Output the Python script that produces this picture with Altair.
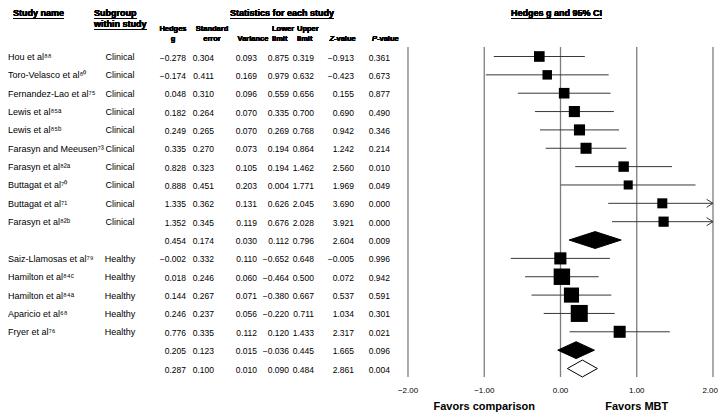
import altair as alt
import pandas as pd
import numpy as np

# ---------------- data ----------------
names = ["Hou et al⁸⁸", "Toro-Velasco et al⁸⁰", "Fernandez-Lao et al⁷⁵", "Lewis et al⁸⁵ᵃ",
         "Lewis et al⁸⁵ᵇ", "Farasyn and Meeusen⁷³", "Farasyn et al⁸²ᵃ", "Buttagat et al⁷⁰",
         "Buttagat et al⁷¹", "Farasyn et al⁸²ᵇ", "", "Saiz-Llamosas  et al⁷⁹", "Hamilton et al⁸⁴ᶜ",
         "Hamilton et al⁸⁴ᵃ", "Aparicio et al⁶⁸", "Fryer et al⁷⁶", "", ""]
subgroups = ["Clinical"] * 10 + [""] + ["Healthy"] * 5 + ["", ""]
row_kind = ["study"] * 10 + ["subtotal"] + ["study"] * 5 + ["subtotal", "overall"]
hedges_g = [-0.278, -0.174, 0.048, 0.182, 0.249, 0.335, 0.828, 0.888, 1.335, 1.352, 0.454,
            -0.002, 0.018, 0.144, 0.246, 0.776, 0.205, 0.287]
std_err = [0.304, 0.411, 0.310, 0.264, 0.265, 0.270, 0.323, 0.451, 0.362, 0.345, 0.174,
           0.332, 0.246, 0.267, 0.237, 0.335, 0.123, 0.100]
variance = [0.093, 0.169, 0.096, 0.070, 0.070, 0.073, 0.105, 0.203, 0.131, 0.119, 0.030,
            0.110, 0.060, 0.071, 0.056, 0.112, 0.015, 0.010]
lower_limit = [-0.875, -0.979, -0.559, -0.335, -0.269, -0.194, 0.194, 0.004, 0.626, 0.676, 0.112,
               -0.652, -0.464, -0.380, -0.220, 0.120, -0.036, 0.090]
lower_printed = ["0.875", "0.979", "0.559", "0.335", "0.269", "0.194", "0.194", "0.004", "0.626",
                 "0.676", "0.112", "−0.652", "−0.464", "−0.380", "−0.220", "0.120", "−0.036", "0.090"]
upper_limit = [0.319, 0.632, 0.656, 0.700, 0.768, 0.864, 1.462, 1.771, 2.045, 2.028, 0.796,
               0.648, 0.500, 0.667, 0.711, 1.433, 0.445, 0.484]
z_value = [-0.913, -0.423, 0.155, 0.690, 0.942, 1.242, 2.560, 1.969, 3.690, 3.921, 2.604,
           -0.005, 0.072, 0.537, 1.034, 2.317, 1.665, 2.861]
p_value = [0.361, 0.673, 0.877, 0.490, 0.346, 0.214, 0.010, 0.049, 0.000, 0.000, 0.009,
           0.996, 0.942, 0.591, 0.301, 0.021, 0.096, 0.004]
axis_ticks = [-2, -1, 0, 1, 2]
tick_labels = ["−2.00", "−1.00", "0.00", "1.00", "2.00"]
favors_text = ["Favors comparison", "Favors MBT"]
favors_at = [-1, 1]
x_min, x_max = -2, 2

# ---------------- derived tables ----------------
def fmt(v):
    return f"{v:.3f}".replace("-", "−")

n = len(names)
rows = list(range(n))
table = pd.DataFrame({
    "row": rows, "name": names, "sub": subgroups,
    "g_txt": [fmt(v) for v in hedges_g], "se_txt": [fmt(v) for v in std_err],
    "var_txt": [fmt(v) for v in variance], "lo_txt": lower_printed,
    "up_txt": [fmt(v) for v in upper_limit], "z_txt": [fmt(v) for v in z_value],
    "p_txt": [fmt(v) for v in p_value],
})

# relative (random-effects) weights within each subgroup -> square area
def rel_weights(idx):
    v = np.array([variance[i] for i in idx])
    y = np.array([hedges_g[i] for i in idx])
    w = 1 / v
    m = (w * y).sum() / w.sum()
    q = (w * (y - m) ** 2).sum()
    c = w.sum() - (w ** 2).sum() / w.sum()
    tau2 = max(0.0, (q - (len(idx) - 1)) / c)
    wr = 1 / (v + tau2)
    return 100 * wr / wr.sum()

weights = {}
for grp in ["Clinical", "Healthy"]:
    idx = [i for i in rows if subgroups[i] == grp]
    for i, w in zip(idx, rel_weights(idx)):
        weights[i] = w

study_idx = [i for i in rows if row_kind[i] == "study"]
studies = pd.DataFrame({
    "row": study_idx,
    "g": [hedges_g[i] for i in study_idx],
    "lo": [max(lower_limit[i], x_min) for i in study_idx],
    "hi": [min(upper_limit[i], x_max) for i in study_idx],
    "area": [weights[i] * 10.8 for i in study_idx],
})
arrows = pd.DataFrame({
    "row": [i for i in study_idx if upper_limit[i] > x_max],
    "x": [x_max for i in study_idx if upper_limit[i] > x_max],
})

dia = []
for i in rows:
    if row_kind[i] == "study":
        continue
    fill = "black" if row_kind[i] == "subtotal" else "white"
    h = 0.46
    dia += [
        {"row": i, "x": lower_limit[i], "y": i, "y2": i, "fill": fill},
        {"row": i, "x": hedges_g[i], "y": i - h, "y2": i + h, "fill": fill},
        {"row": i, "x": upper_limit[i], "y": i, "y2": i, "fill": fill},
    ]
diamonds = pd.DataFrame(dia)

ticks = pd.DataFrame({"t": axis_ticks, "label": tick_labels})
ticks_inner = ticks[ticks["t"] < x_max]
ticks_edge = ticks[ticks["t"] == x_max]
fav = pd.DataFrame({"t": favors_at, "label": favors_text})

# ---------------- scales & styles ----------------
xs = alt.Scale(domain=[x_min, x_max], range=[400, 705])
ys = alt.Scale(domain=[0, n - 1], range=[48.5, 360.5])
FONT = "Liberation Sans, Arial, sans-serif"
NUM = "Liberation Sans Narrow, Arial Narrow, Liberation Sans, sans-serif"
GRID = "#7d7d7d"
CI = "#383838"

X = lambda f: alt.X(f, scale=xs, axis=None)
Y = lambda f: alt.Y(f, scale=ys, axis=None)

layers = []

# vertical reference lines
layers.append(alt.Chart(ticks).mark_rule(color=GRID, strokeWidth=1.3).encode(
    x=X("t:Q"), y=alt.value(39), y2=alt.value(369)))
# CI lines
layers.append(alt.Chart(studies).mark_rule(color=CI, strokeWidth=1).encode(
    x=X("lo:Q"), x2="hi:Q", y=Y("row:Q")))
# arrows for truncated CIs
layers.append(alt.Chart(arrows).mark_point(
    shape="M-1.6,-1L0,0L-1.6,1", filled=False, color=CI, strokeWidth=1, size=64, opacity=1).encode(
    x=X("x:Q"), y=Y("row:Q")))
# squares
layers.append(alt.Chart(studies).mark_square(color="black", opacity=1).encode(
    x=X("g:Q"), y=Y("row:Q"), size=alt.Size("area:Q", scale=None)))
# diamonds
layers.append(alt.Chart(diamonds).mark_area(orient="vertical", stroke="black", strokeWidth=1).encode(
    x=X("x:Q"), y=alt.Y("y:Q", scale=ys, axis=None, stack=None), y2="y2:Q",
    detail="row:N", fill=alt.Fill("fill:N", scale=None)))

# tick labels and favors labels
layers.append(alt.Chart(ticks_inner).mark_text(font=NUM, fontSize=8, color="black", baseline="middle").encode(
    x=X("t:Q"), y=alt.value(383), text="label:N"))
layers.append(alt.Chart(ticks_edge).mark_text(font=NUM, fontSize=8, color="black", baseline="middle",
                                              align="right", dx=5).encode(
    x=X("t:Q"), y=alt.value(383), text="label:N"))
layers.append(alt.Chart(fav).mark_text(font=FONT, fontSize=11, fontWeight="bold", color="black",
                                       baseline="middle").encode(
    x=X("t:Q"), y=alt.value(399), text="label:N"))

# table columns
layers.append(alt.Chart(table).mark_text(font=FONT, fontSize=9, align="left", baseline="middle",
                                         color="black", dy=0.5).encode(
    x=alt.value(0), y=Y("row:Q"), text="name:N"))
layers.append(alt.Chart(table).mark_text(font=FONT, fontSize=9, align="center", baseline="middle",
                                         color="black", dy=0.5).encode(
    x=alt.value(112), y=Y("row:Q"), text="sub:N"))
for col, px in [("g_txt", 178), ("se_txt", 206), ("var_txt", 249), ("lo_txt", 281),
                ("up_txt", 306), ("z_txt", 346), ("p_txt", 382)]:
    layers.append(alt.Chart(table).mark_text(font=NUM, fontSize=8.5, align="right", baseline="middle",
                                             color="black", dy=1).encode(
        x=alt.value(px), y=Y("row:Q"), text=f"{col}:N"))

# headers
def label(txt, x, y, size=9, align="center", bold=True, italic=False, font=FONT):
    kw = dict(text=txt, font=font, fontSize=size, align=align, baseline="middle", color="black")
    if bold:
        kw["fontWeight"] = "bold"
    if italic:
        kw["fontStyle"] = "italic"
    return alt.Chart(ticks).mark_text(**kw).encode(x=alt.value(x), y=alt.value(y))

def underline(x1, x2, y):
    return alt.Chart(ticks).mark_rule(color="black", strokeWidth=0.9).encode(
        x=alt.value(x1), x2=alt.value(x2), y=alt.value(y))

layers += [
    label("Study name", 5, 5, align="left"), underline(5, 56, 10.5),
    label("Subgroup", 86, 5, align="left"), underline(86, 129, 10.5),
    label("within study", 86, 16, align="left"), underline(86, 139, 21.5),
    label("Statistics for each study", 274, 5), underline(222, 326, 10.5),
    label("Hedges g and 95% CI", 548.5, 5), underline(503, 594, 10.5),
    label("Hedges", 165, 21, size=7.5), label("g", 165, 31, size=7.5),
    label("Standard", 204, 21, size=7.5), label("error", 204, 31, size=7.5),
    label("Variance", 245, 31, size=7.5),
    label("Lower", 264, 21, size=7.5, align="left"), label("limit", 264, 31, size=7.5, align="left"),
    label("Upper", 289, 21, size=7.5, align="left"), label("limit", 289, 31, size=7.5, align="left"),
    label("Z", 326, 31, size=7.5, align="right", italic=True),
    label("-value", 326, 31, size=7.5, align="left"),
    label("P", 369, 31, size=7.5, align="right", italic=True),
    label("-value", 369, 31, size=7.5, align="left"),
]

chart = alt.layer(*layers).properties(
    width=710, height=410, padding=0, autosize=alt.AutoSizeParams(type="none"),
    background="white",
).configure_view(stroke=None)

chart.save("out.html", embed_options={"renderer": "svg", "actions": False})
